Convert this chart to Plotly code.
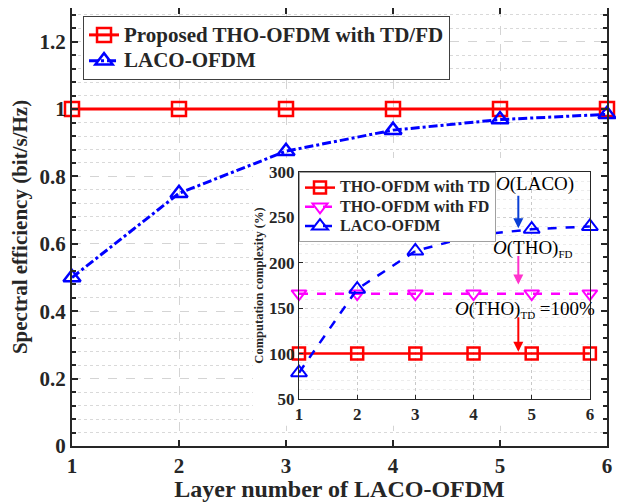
import plotly.graph_objects as go

# ---- data ----
layers = [1, 2, 3, 4, 5, 6]
se_tho = [1.0, 1.0, 1.0, 1.0, 1.0, 1.0]
se_laco = [0.5, 0.75, 0.875, 0.9375, 0.96875, 0.984375]

cc_td = [100, 100, 100, 100, 100, 100]
cc_fd = [166, 166, 166, 166, 166, 166]
cc_laco = [79, 171, 213, 230, 237, 240]

main_names = ["Proposed THO-OFDM with TD/FD", "LACO-OFDM"]
inset_names = ["THO-OFDM with TD", "THO-OFDM with FD", "LACO-OFDM"]

SERIF = "Liberation Serif"
RED = "#ff0000"
BLUE = "#0000ff"
MAG = "#ff00ff"
DARK = "#262626"


def big(name, px):
    # legend rows are spaced by the legend font size; the visible text is larger
    return "<span style='font-size:%dpx'>%s</span>" % (px, name)


fig = go.Figure()

# main traces
fig.add_trace(go.Scatter(
    x=layers, y=se_tho, name=big(main_names[0], 21), mode="lines+markers",
    line=dict(color=RED, width=3), cliponaxis=False,
    marker=dict(symbol="square-open", size=14, color=RED, line=dict(width=2.5)),
    legend="legend", xaxis="x", yaxis="y"))
fig.add_trace(go.Scatter(
    x=layers, y=se_laco, name=big(main_names[1], 21), mode="lines+markers",
    line=dict(color=BLUE, width=3, dash="dashdot"), cliponaxis=False,
    marker=dict(symbol="triangle-up-open", size=15, color=BLUE, line=dict(width=2.5)),
    legend="legend", xaxis="x", yaxis="y"))

# inset traces
fig.add_trace(go.Scatter(
    x=layers, y=cc_td, name=big(inset_names[0], 16), mode="lines+markers",
    line=dict(color=RED, width=2.5), cliponaxis=False,
    marker=dict(symbol="square-open", size=12, color=RED, line=dict(width=2.5)),
    legend="legend2", xaxis="x2", yaxis="y2"))
fig.add_trace(go.Scatter(
    x=layers, y=cc_fd, name=big(inset_names[1], 16), mode="lines+markers",
    line=dict(color=MAG, width=2.5, dash="dash"), cliponaxis=False,
    marker=dict(symbol="triangle-down-open", size=13, color=MAG, line=dict(width=2)),
    legend="legend2", xaxis="x2", yaxis="y2"))
fig.add_trace(go.Scatter(
    x=layers, y=cc_laco, name=big(inset_names[2], 16), mode="lines+markers",
    line=dict(color=BLUE, width=2.5, dash="dash"), cliponaxis=False,
    marker=dict(symbol="triangle-up-open", size=14, color=BLUE, line=dict(width=2)),
    legend="legend2", xaxis="x2", yaxis="y2"))

# white background behind inset (above main grid, below everything of the inset)
fig.add_shape(type="rect", xref="x", yref="y", x0=2.69, x1=6, y0=0.06, y1=0.855,
              fillcolor="white", line=dict(width=0), layer="between")

tickfont_main = dict(family=SERIF, size=21, color=DARK, weight="bold")
tickfont_inset = dict(family=SERIF, size=17, color=DARK, weight="bold")

# the page body adds an 8px offset, so the figure is 8px smaller than the window
fig.update_layout(
    width=616, height=494,
    margin=dict(l=64, r=17, t=0, b=56),
    paper_bgcolor="white", plot_bgcolor="white",
    font=dict(family=SERIF, color=DARK),
    xaxis=dict(
        domain=[0, 1], range=[1, 6], dtick=1, tick0=1, automargin=False,
        showline=True, linecolor=DARK, linewidth=2, mirror="ticks",
        ticks="inside", ticklen=6, tickwidth=1.5, tickcolor=DARK,
        tickfont=tickfont_main,
        showgrid=True, gridcolor="#d4d4d4", griddash="dash", gridwidth=1,
        zeroline=False,
        title=dict(text="Layer number of LACO-OFDM", standoff=0,
                   font=dict(family=SERIF, size=24, color=DARK, weight="bold")),
    ),
    yaxis=dict(
        domain=[0, 1], range=[0, 1.3], dtick=0.2, tick0=0, automargin=False,
        showline=True, linecolor=DARK, linewidth=2, mirror="ticks",
        ticks="inside", ticklen=6, tickwidth=1.5, tickcolor=DARK,
        tickfont=tickfont_main,
        showgrid=True, gridcolor="#d4d4d4", griddash="dash", gridwidth=1,
        zeroline=False,
        minor=dict(dtick=0.04, ticks="inside", ticklen=4, tickcolor=DARK,
                   showgrid=True, gridcolor="#d9d9d9", griddash="dot", gridwidth=1),
        title=dict(text="Spectral efficiency (bit/s/Hz)", standoff=6,
                   font=dict(family=SERIF, size=21, color=DARK, weight="bold")),
    ),
    xaxis2=dict(
        domain=[0.4243, 0.968], anchor="y2", range=[1, 6], dtick=1, tick0=1,
        automargin=False,
        showline=True, linecolor=DARK, linewidth=1, mirror=True,
        ticks="inside", ticklen=4, tickcolor=DARK,
        tickfont=tickfont_inset,
        showgrid=True, gridcolor="#c8c8c8", griddash="dot", gridwidth=1,
        zeroline=False,
    ),
    yaxis2=dict(
        domain=[0.1073, 0.6256], anchor="x2", range=[50, 300], dtick=50, tick0=50,
        automargin=False,
        showline=True, linecolor=DARK, linewidth=1, mirror=True,
        ticks="inside", ticklen=4, tickcolor=DARK,
        tickfont=tickfont_inset,
        showgrid=True, gridcolor="#d0d0d0", griddash="dot", gridwidth=1,
        zeroline=False,
        minor=dict(dtick=10, showgrid=True, gridcolor="#ececec", griddash="dot", gridwidth=1),
        title=dict(text="Computation complexity (%)", standoff=2,
                   font=dict(family=SERIF, size=12.5, color=DARK, weight="bold")),
    ),
    legend=dict(
        x=0.0206, y=0.9817, xanchor="left", yanchor="top",
        bgcolor="white", bordercolor="#404040", borderwidth=1,
        font=dict(family=SERIF, size=17.5, color=DARK, weight="bold"),
        itemwidth=30, tracegroupgap=0,
    ),
    legend2=dict(
        x=0.4243, y=0.6256, xanchor="left", yanchor="top",
        bgcolor="white", bordercolor="#a0a0a0", borderwidth=1,
        font=dict(family=SERIF, size=12.5, color=DARK, weight="bold"),
        itemwidth=30, tracegroupgap=0,
    ),
    showlegend=True,
)

# annotations (inset)
ann_font = dict(family=SERIF, size=19, color="black")
SUB = "<sub><span style='font-size:11px'>{}</span></sub>"
fig.add_annotation(xref="x2", yref="y2", x=5.06, y=287, text="<i>O</i>(LACO)",
                   showarrow=False, font=ann_font, yanchor="middle")
fig.add_annotation(xref="x2", yref="y2", x=4.77, y=238, ax=0, ay=-34, text="",
                   showarrow=True, arrowhead=2, arrowsize=1, arrowwidth=2, arrowcolor="#0a3fd6")
fig.add_annotation(xref="x2", yref="y2", x=5.02, y=216, text="<i>O</i>(THO)" + SUB.format("FD"),
                   showarrow=False, font=ann_font, yanchor="middle")
fig.add_annotation(xref="x2", yref="y2", x=4.89, y=149,
                   text="<i>O</i>(THO)" + SUB.format("TD") + " =100%",
                   showarrow=False, font=ann_font, yanchor="middle")
fig.add_annotation(xref="x2", yref="y2", x=4.77, y=176, ax=0, ay=-30, text="",
                   showarrow=True, arrowhead=2, arrowsize=1, arrowwidth=2, arrowcolor="#ff33cc")
fig.add_annotation(xref="x2", yref="y2", x=4.77, y=102, ax=0, ay=-36, text="",
                   showarrow=True, arrowhead=2, arrowsize=1, arrowwidth=2, arrowcolor="#ff0000")

fig.write_html("out.html")
